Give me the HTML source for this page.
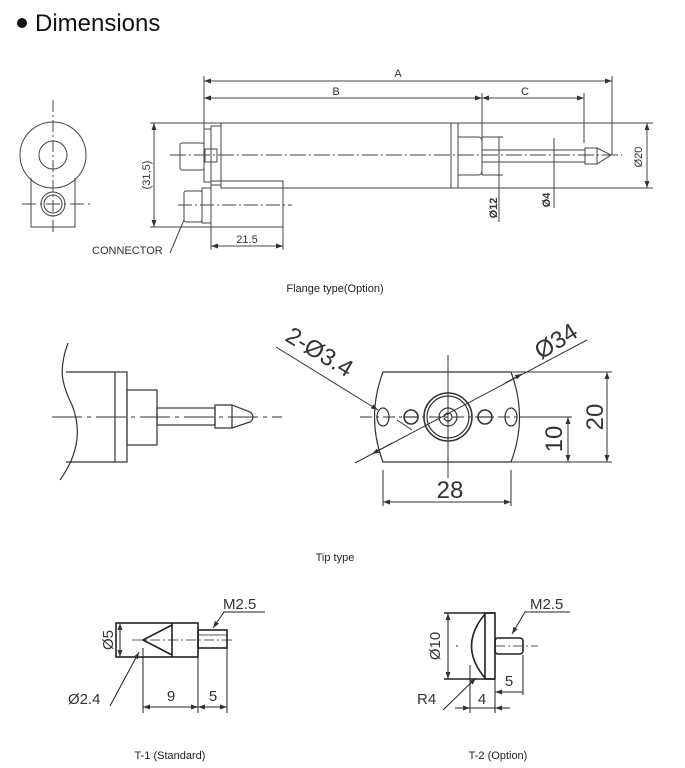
<!DOCTYPE html>
<html><head><meta charset="utf-8"><style>
html,body{margin:0;padding:0;background:#fff;}
svg{display:block;}
text{font-family:"Liberation Sans",sans-serif;fill:#333;}
</style></head><body>
<svg width="685" height="768" viewBox="0 0 685 768" xmlns="http://www.w3.org/2000/svg">
<defs>
<marker id="a" viewBox="0 0 10 10" refX="10" refY="5" markerWidth="7" markerHeight="7" orient="auto-start-reverse" markerUnits="userSpaceOnUse"><path d="M0,1.5 L10,5 L0,8.5z" fill="#333"/></marker>
</defs>
<circle cx="22" cy="23" r="5" fill="#111"/>
<text x="35" y="31" font-size="24" style="fill:#111">Dimensions</text>

<g stroke="#444" stroke-width="1" fill="none">
<circle cx="53" cy="155" r="33"/>
<circle cx="53" cy="155" r="14"/>
<path d="M31,178 V227 H75 V178"/>
<circle cx="53" cy="204" r="12"/><circle cx="53" cy="204" r="9"/>
<line x1="53" y1="100" x2="53" y2="233" stroke-dasharray="12 3 2 3"/>
<line x1="22" y1="204" x2="92" y2="204" stroke-dasharray="14 4 2 4"/>

<rect x="221" y="123" width="237" height="65"/>
<rect x="211" y="126" width="10" height="59"/>
<rect x="204" y="129" width="7" height="53"/>
<rect x="180" y="143" width="24" height="27" rx="2"/>
<rect x="205" y="149" width="12" height="13"/>
<line x1="451" y1="123" x2="451" y2="188"/>
<path d="M458,137 H478 Q482,137 482,141 V171 Q482,175 478,175 H458"/>
<rect x="482" y="150" width="103" height="12"/>
<path d="M585,148 H597 L611,155 L597,164 H585z"/>
<line x1="597" y1="148" x2="597" y2="164"/>
<line x1="170" y1="155" x2="622" y2="155" stroke-dasharray="16 3 2 3"/>
<rect x="211" y="181" width="72" height="46"/>
<rect x="202" y="188" width="9" height="35"/>
<rect x="184" y="191" width="18" height="31" rx="2"/>
<line x1="178" y1="205" x2="292" y2="205" stroke-dasharray="14 3 2 3"/>
<line x1="204" y1="76" x2="204" y2="129"/>
<line x1="612" y1="76" x2="612" y2="155"/>
<line x1="204" y1="81" x2="612" y2="81" marker-start="url(#a)" marker-end="url(#a)"/>
<line x1="204" y1="98" x2="482" y2="98" marker-start="url(#a)" marker-end="url(#a)"/>
<line x1="482" y1="98" x2="584" y2="98" marker-start="url(#a)" marker-end="url(#a)"/>
<line x1="482" y1="93" x2="482" y2="175"/>
<line x1="584" y1="93" x2="584" y2="143"/>
<line x1="150" y1="123" x2="221" y2="123"/>
<line x1="150" y1="227" x2="211" y2="227"/>
<line x1="154" y1="123" x2="154" y2="227" marker-start="url(#a)" marker-end="url(#a)"/>
<line x1="458" y1="123" x2="653" y2="123"/>
<line x1="458" y1="188" x2="653" y2="188"/>
<line x1="647" y1="123" x2="647" y2="188" marker-start="url(#a)" marker-end="url(#a)"/>
<line x1="482" y1="137" x2="503" y2="137"/>
<line x1="482" y1="175" x2="503" y2="175"/>
<line x1="499" y1="137" x2="499" y2="222"/>
<line x1="554" y1="138" x2="554" y2="208"/>
<line x1="283" y1="227" x2="283" y2="250"/>
<line x1="211" y1="227" x2="211" y2="250"/>
<line x1="211" y1="246" x2="283" y2="246" marker-start="url(#a)" marker-end="url(#a)"/>
<path d="M184,220 L170,253"/>
</g>
<g font-size="11">
<text x="398" y="77" text-anchor="middle">A</text>
<text x="336" y="95" text-anchor="middle">B</text>
<text x="525" y="95" text-anchor="middle">C</text>
<text x="247" y="243" text-anchor="middle">21.5</text>
<text x="92" y="254" font-size="11" fill="#555">CONNECTOR</text>
<text transform="translate(150,175) rotate(-90)" text-anchor="middle">(31,5)</text>
<text transform="translate(642,157) rotate(-90)" text-anchor="middle">Ø20</text>
<text transform="translate(497,208) rotate(-90)" text-anchor="middle" font-weight="bold">Ø12</text>
<text transform="translate(550,200) rotate(-90)" text-anchor="middle" font-weight="bold">Ø4</text>
<text x="335" y="292" text-anchor="middle" style="fill:#222">Flange type(Option)</text>
</g>

<g stroke="#333" stroke-width="1.2" fill="none">
<path d="M68,343 C58,370 62,385 72,405 C82,430 78,455 60,480"/>
<line x1="66" y1="372" x2="115" y2="372"/>
<line x1="66" y1="462" x2="115" y2="462"/>
<rect x="115" y="372" width="12" height="90"/>
<rect x="127" y="390" width="30" height="55"/>
<rect x="157" y="408" width="58" height="17"/>
<path d="M215,405 H232 L250,412 Q256,417 250,422 L232,428 H215z"/>
<line x1="232" y1="405" x2="232" y2="428"/>
<line x1="52" y1="417" x2="282" y2="417" stroke-width="1" stroke-dasharray="30 5 4 5"/>

<path d="M383,372 H511 Q528,417 511,462 H383 Q366,417 383,372z"/>
<circle cx="448" cy="417" r="24" stroke-width="1.6"/>
<circle cx="448" cy="417" r="21"/>
<circle cx="448" cy="417" r="9"/>
<circle cx="448" cy="417" r="4"/>
<circle cx="411" cy="417" r="7" stroke-width="1.6"/>
<circle cx="485" cy="417" r="7" stroke-width="1.6"/>
<line x1="404" y1="417" x2="418" y2="417"/><line x1="478" y1="417" x2="492" y2="417"/>
<ellipse cx="383" cy="417" rx="6" ry="9"/>
<ellipse cx="511" cy="417" rx="6" ry="9"/>
<line x1="360" y1="417" x2="535" y2="417" stroke-dasharray="12 4 3 4" stroke-width="1"/>
<line x1="448" y1="355" x2="448" y2="478" stroke-width="1"/>
<line x1="383" y1="470" x2="383" y2="506" stroke-width="1"/>
<line x1="511" y1="470" x2="511" y2="506" stroke-width="1"/>
<line x1="383" y1="502" x2="511" y2="502" stroke-width="1" marker-start="url(#a)" marker-end="url(#a)"/>
<line x1="511" y1="372" x2="612" y2="372" stroke-width="1"/>
<line x1="511" y1="462" x2="612" y2="462" stroke-width="1"/>
<line x1="520" y1="417" x2="572" y2="417" stroke-width="1"/>
<line x1="607" y1="372" x2="607" y2="462" stroke-width="1" marker-start="url(#a)" marker-end="url(#a)"/>
<line x1="568" y1="417" x2="568" y2="462" stroke-width="1" marker-start="url(#a)" marker-end="url(#a)"/>
<line x1="276" y1="347" x2="378" y2="410" stroke-width="1" marker-end="url(#a)"/>
<line x1="397" y1="420" x2="412" y2="430" stroke-width="1"/>
<line x1="355" y1="463" x2="587" y2="340" stroke-width="1"/>
<line x1="392" y1="443" x2="372" y2="454" stroke-width="1" marker-end="url(#a)"/>
<line x1="505" y1="383" x2="522" y2="374" stroke-width="1" marker-end="url(#a)"/>
</g>
<g>
<text transform="translate(284,340) rotate(31)" font-size="24">2-Ø3.4</text>
<text transform="translate(541,360) rotate(-32)" font-size="24">Ø34</text>
<text x="450" y="498" text-anchor="middle" font-size="24">28</text>
<text transform="translate(603,417) rotate(-90)" text-anchor="middle" font-size="24">20</text>
<text transform="translate(562,439) rotate(-90)" text-anchor="middle" font-size="24">10</text>
</g>
<text x="335" y="561" text-anchor="middle" font-size="11" style="fill:#222">Tip type</text>

<g stroke="#222" stroke-width="1.6" fill="none">
<rect x="116" y="623" width="82" height="34"/>
<line x1="172" y1="623" x2="172" y2="657"/>
<path d="M172,625 L143,640 L172,655"/>
<rect x="198" y="630" width="29" height="18"/>
<line x1="198" y1="635" x2="227" y2="635" stroke-width="0.8"/>
<line x1="132" y1="640" x2="232" y2="640" stroke-width="0.8" stroke-dasharray="10 3 2 3"/>
<line x1="120" y1="623" x2="120" y2="657" stroke-width="1" marker-start="url(#a)" marker-end="url(#a)"/>
<line x1="143" y1="648" x2="143" y2="713" stroke-width="1"/>
<line x1="198" y1="657" x2="198" y2="713" stroke-width="1"/>
<line x1="227" y1="648" x2="227" y2="713" stroke-width="1"/>
<line x1="143" y1="707" x2="198" y2="707" stroke-width="1" marker-start="url(#a)" marker-end="url(#a)"/>
<line x1="198" y1="707" x2="227" y2="707" stroke-width="1" marker-start="url(#a)" marker-end="url(#a)"/>
<path d="M265,612 H224 L213,628" stroke-width="1" marker-end="url(#a)"/>
<path d="M110,706 L139,652" stroke-width="1" marker-end="url(#a)"/>
</g>
<g>
<text x="223" y="609" font-size="15">M2.5</text>
<text transform="translate(113,640) rotate(-90)" text-anchor="middle" font-size="15">Ø5</text>
<text x="68" y="704" font-size="15">Ø2.4</text>
<text x="171" y="701" text-anchor="middle" font-size="15">9</text>
<text x="213" y="701" text-anchor="middle" font-size="15">5</text>
</g>
<text x="170" y="759" text-anchor="middle" font-size="11" style="fill:#222">T-1 (Standard)</text>

<g stroke="#222" stroke-width="1.6" fill="none">
<line x1="444" y1="613" x2="495" y2="613"/>
<line x1="444" y1="679" x2="495" y2="679"/>
<path d="M485,614 Q458,646 485,678"/>
<rect x="485" y="613" width="10" height="66"/>
<rect x="495" y="638" width="28" height="16" rx="3"/>
<line x1="495" y1="646" x2="538" y2="646" stroke-width="0.8" stroke-dasharray="10 3 2 3"/>
<line x1="456" y1="646" x2="458" y2="646" stroke-width="1"/>
<line x1="448" y1="613" x2="448" y2="679" stroke-width="1" marker-start="url(#a)" marker-end="url(#a)"/>
<line x1="470" y1="665" x2="470" y2="713" stroke-width="1"/>
<line x1="495" y1="680" x2="495" y2="713" stroke-width="1"/>
<line x1="523" y1="655" x2="523" y2="695" stroke-width="1"/>
<line x1="495" y1="692" x2="523" y2="692" stroke-width="1" marker-start="url(#a)"/>
<line x1="455" y1="708" x2="470" y2="708" stroke-width="1" marker-end="url(#a)"/>
<line x1="510" y1="708" x2="495" y2="708" stroke-width="1" marker-end="url(#a)"/>
<line x1="470" y1="708" x2="495" y2="708" stroke-width="1"/>
<path d="M570,612 H525 L512,634" stroke-width="1" marker-end="url(#a)"/>
<path d="M443,710 L476,678" stroke-width="1" marker-end="url(#a)"/>
</g>
<g>
<text x="530" y="609" font-size="15">M2.5</text>
<text transform="translate(440,646) rotate(-90)" text-anchor="middle" font-size="15">Ø10</text>
<text x="417" y="704" font-size="15">R4</text>
<text x="482" y="704" text-anchor="middle" font-size="15">4</text>
<text x="509" y="686" text-anchor="middle" font-size="15">5</text>
</g>
<text x="498" y="759" text-anchor="middle" font-size="11" style="fill:#222">T-2 (Option)</text>
</svg>
</body></html>
